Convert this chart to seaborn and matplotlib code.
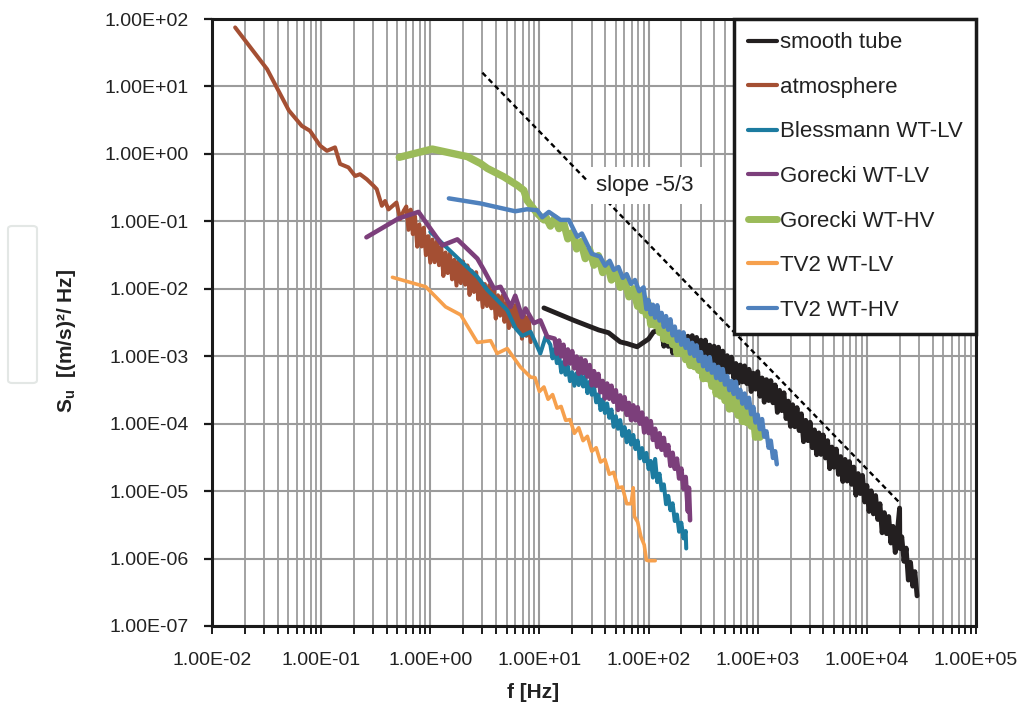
import numpy as np
import pandas as pd
import matplotlib
matplotlib.use("Agg")
import matplotlib.pyplot as plt
import seaborn as sns
from matplotlib.ticker import FuncFormatter, LogLocator, NullLocator
from matplotlib.patches import FancyBboxPatch

# ---------------- data ----------------
atm_f = [0.0163, 0.032, 0.0506, 0.0665, 0.079, 0.098, 0.113, 0.134, 0.149, 0.178,
         0.205, 0.227, 0.262, 0.30, 0.323, 0.36, 0.385, 0.414, 0.49, 0.53, 0.57,
         0.603, 0.631, 0.661, 0.692, 0.724, 0.759, 0.794, 0.832, 0.871, 0.912, 0.955,
         1.0, 1.047, 1.096, 1.148, 1.202, 1.259, 1.318, 1.380, 1.445, 1.514, 1.585,
         1.660, 1.738, 1.820, 1.905, 1.995, 2.089, 2.188, 2.291, 2.399, 2.512, 2.630,
         2.754, 2.884, 3.020, 3.162, 3.311, 3.467, 3.631, 3.802, 3.981, 4.169, 4.365,
         4.571, 4.786, 5.012, 5.248, 5.495, 5.754, 6.026, 6.310, 6.607, 6.918, 7.244,
         7.586, 7.943, 8.318]
atm_S = [75, 18, 4.4, 2.6, 2.2, 1.32, 1.11, 1.25, 0.71, 0.63,
         0.47, 0.50, 0.42, 0.34, 0.30, 0.17, 0.20, 0.15, 0.19, 0.108, 0.143,
         0.166, 0.0748, 0.149, 0.0647, 0.119, 0.0421, 0.0897, 0.0424, 0.0804, 0.0316,
         0.0602, 0.0244, 0.0537, 0.0248, 0.0506, 0.0224, 0.0424, 0.0155, 0.0345, 0.0171,
         0.0335, 0.0138, 0.0269, 0.01116, 0.0257, 0.01213, 0.0254, 0.0115, 0.0222, 0.0081,
         0.0183, 0.00897, 0.0176, 0.00692, 0.0130, 0.00534, 0.01175, 0.00555, 0.01132,
         0.00514, 0.0097, 0.00362, 0.0080, 0.0040, 0.00786, 0.00324, 0.00623, 0.00262,
         0.00589, 0.00278, 0.00568, 0.00258, 0.00486, 0.00182, 0.00401, 0.00201, 0.00394,
         0.00162]

gLV_f = [0.26, 0.51, 0.78, 1.29, 1.77, 2.7, 3.1, 3.83, 4.4, 5.45, 6.0, 6.95, 7.46, 8.9,
         10.2, 11.8, 13.80, 14.45, 15.14, 15.85, 16.60, 17.38, 18.20, 19.05, 19.95, 20.89,
         21.88, 22.91, 23.99, 25.12, 26.30, 27.54, 28.84, 30.20, 31.62, 33.11, 34.67,
         36.31, 38.02, 39.81, 41.69, 43.65, 45.71, 47.86, 50.12, 52.48, 54.95, 57.54,
         60.26, 63.10, 66.07, 69.18, 72.44, 75.86, 79.43, 83.18, 87.10, 91.20, 95.50,
         100.0, 104.7, 109.6, 114.8, 120.2, 125.9, 131.8, 138.0, 144.5, 151.4, 158.5,
         166.0, 173.8, 182.0, 190.5, 199.5, 208.9, 218.8, 229.1, 234.4, 239.9]
gLV_S = [0.058, 0.11, 0.138, 0.044, 0.054, 0.028, 0.019, 0.0101, 0.0107, 0.0054, 0.0079,
         0.0038, 0.0051, 0.0031, 0.0034, 0.00195,
         1.82e-3, 1.09e-3, 1.71e-3, 9.95e-4, 1.48e-3, 7.6e-4, 1.26e-3, 7.8e-4, 1.19e-3,
         6.6e-4, 9.9e-4, 5.5e-4, 9.3e-4, 5.6e-4, 8.7e-4, 5.0e-4, 7.4e-4, 3.7e-4, 6.0e-4,
         3.65e-4, 5.45e-4, 2.92e-4, 4.3e-4, 2.37e-4, 3.94e-4, 2.34e-4, 3.65e-4, 2.11e-4,
         3.13e-4, 1.60e-4, 2.62e-4, 1.63e-4, 2.47e-4, 1.35e-4, 2.03e-4, 1.13e-4, 1.87e-4,
         1.12e-4, 1.75e-4, 1.0e-4, 1.46e-4, 7.4e-5, 1.19e-4, 7.25e-5, 1.09e-4, 5.75e-5,
         8.4e-5, 4.5e-5, 7.2e-5, 4.1e-5, 6.15e-5, 3.4e-5, 4.8e-5, 2.37e-5, 3.7e-5,
         2.14e-5, 3.03e-5, 1.54e-5, 2.16e-5, 1.08e-5, 1.62e-5,
         5.0e-6, 1.12e-5, 3.7e-6]

bl_f = [1.0, 2.7, 3.33, 5.07, 6.04, 6.95, 8.3, 10.2, 11.4, 12.59, 13.18, 13.80, 14.45,
        15.14, 15.85, 16.60, 17.38, 18.20, 19.05, 19.95, 20.89, 21.88, 22.91, 23.99,
        25.12, 26.30, 27.54, 28.84, 30.20, 31.62, 33.11, 34.67, 36.31, 38.02, 39.81,
        41.69, 43.65, 45.71, 47.86, 50.12, 52.48, 54.95, 57.54, 60.26, 63.10, 66.07,
        69.18, 72.44, 75.86, 79.43, 83.18, 87.10, 91.20, 95.50, 100.0, 104.7, 109.6,
        114.8, 120.2, 125.9, 131.8, 138.0, 144.5, 151.4, 158.5, 166.0, 173.8, 182.0,
        190.5, 199.5, 208.9, 218.8, 221.3]
bl_S = [0.07, 0.015, 0.0096, 0.0048, 0.0026, 0.0020, 0.0023, 0.0011, 0.00195,
        1.48e-3, 9.3e-4, 1.28e-3, 7.9e-4, 1.04e-3, 5.75e-4, 8.2e-4, 5.3e-4, 7.1e-4,
        4.27e-4, 5.8e-4, 3.65e-4, 5.6e-4, 3.74e-4, 5.5e-4, 3.56e-4, 5.0e-4, 2.84e-4,
        4.18e-4, 2.68e-4, 3.58e-4, 2.07e-4, 2.73e-4, 1.59e-4, 2.29e-4, 1.44e-4, 1.99e-4,
        1.22e-4, 1.62e-4, 8.97e-5, 1.29e-4, 8.4e-5, 1.13e-4, 6.6e-5, 8.9e-5, 5.3e-5,
        7.8e-5, 4.9e-5, 6.8e-5, 4.2e-5, 5.6e-5, 3.06e-5, 4.35e-5, 2.77e-5, 3.68e-5,
        2.12e-5, 2.8e-5, 1.59e-5, 3.0e-5, 1.36e-5, 1.81e-5, 1.03e-5, 1.26e-5, 6.4e-6,
        8.5e-6, 5.2e-6, 6.6e-6, 3.6e-6, 4.5e-6, 2.5e-6, 3.4e-6, 1.99e-6, 2.56e-6, 1.41e-6]

tLV_f = [0.45, 0.91, 1.38, 1.9, 2.7, 3.57, 4.1, 5.07, 6.7, 8.3, 9.12, 10.0, 11.0, 12.0,
         13.2, 14.5, 15.8, 17.4, 19.1, 20.9, 22.9, 25.1, 27.5, 30.2, 33.1, 36.3, 39.8,
         43.7, 47.9, 52.5, 57.5, 63.1, 69.2, 72.4, 74.1, 79.4, 85.1, 91.2, 95.5, 100, 115]
tLV_S = [0.0148, 0.0107, 0.0054, 0.0041, 0.0016, 0.0017, 0.0011, 0.0013, 6.9e-4, 4.9e-4,
         4.8e-4, 3.0e-4, 3.5e-4, 2.3e-4, 2.7e-4, 1.7e-4, 1.8e-4, 1.12e-4, 1.15e-4, 7.2e-5,
         8.7e-5, 5.6e-5, 6.5e-5, 3.9e-5, 4.4e-5, 2.7e-5, 2.95e-5, 1.78e-5, 1.9e-5, 1.12e-5,
         1.15e-5, 6.5e-6, 6.5e-6, 1.12e-5, 4.2e-6, 3.5e-6, 2.1e-6, 1.6e-6, 9.5e-7, 9.3e-7, 9.3e-7]

gHV_f = [0.52, 1.04, 2.19, 2.89, 3.33, 4.72, 6.27, 7.2, 7.7, 9.55, 11.0,
         11.5, 12.6, 13.8, 15.1, 16.6, 18.2, 20.0, 21.9, 24.0, 26.3, 28.8, 31.6, 34.7,
         38.0, 41.7, 45.7, 50.1, 55.0, 60.3, 66.1, 72.4, 79.4,
         83.18, 87.10, 91.20, 95.50, 100.0, 104.7, 109.6, 114.8, 120.2, 125.9, 131.8,
         138.0, 144.5, 151.4, 158.5, 166.0, 173.8, 182.0, 190.5, 199.5, 208.9, 218.8,
         229.1, 239.9, 251.2, 263.0, 275.4, 288.4, 302.0, 316.2, 331.1, 346.7, 363.1,
         380.2, 398.1, 416.9, 436.5, 457.1, 478.6, 501.2, 524.8, 549.5, 575.4, 602.6,
         631.0, 660.7, 691.8, 724.4, 758.6, 794.3, 831.8, 871.0, 912.0, 955.0, 1000, 1047]
gHV_S = [0.89, 1.18, 0.91, 0.72, 0.61, 0.457, 0.342, 0.288, 0.205, 0.131, 0.105,
         0.115, 0.085, 0.112, 0.078, 0.098, 0.055, 0.068, 0.039, 0.050, 0.028, 0.038,
         0.0224, 0.031, 0.0174, 0.0234, 0.0135, 0.0182, 0.0105, 0.0138, 0.0076, 0.0100,
         0.0055,
         8.2e-3, 4.75e-3, 7.2e-3, 4.1e-3, 5.9e-3, 2.96e-3, 4.74e-3, 2.87e-3, 4.25e-3,
         2.26e-3, 3.31e-3, 1.79e-3, 2.92e-3, 1.71e-3, 2.61e-3, 1.49e-3, 2.18e-3, 1.10e-3,
         1.78e-3, 1.09e-3, 1.65e-3, 8.9e-4, 1.33e-3, 7.3e-4, 1.19e-3, 7.0e-4, 1.08e-3,
         6.2e-4, 9.1e-4, 4.65e-4, 7.6e-4, 4.65e-4, 6.8e-4, 3.59e-4, 5.2e-4, 2.77e-4,
         4.47e-4, 2.58e-4, 3.91e-4, 2.2e-4, 3.24e-4, 1.65e-4, 2.69e-4, 1.65e-4, 2.47e-4,
         1.33e-4, 1.97e-4, 1.08e-4, 1.77e-4, 1.04e-4, 1.60e-4, 9.2e-5, 1.30e-4, 6.3e-5,
         9.9e-5, 6.3e-5]

tHV_f = [1.48, 2.89, 6.0, 7.7, 9.55, 10.6, 12.2, 15.6, 18.6, 22.2, 24.5, 30.2, 36, 40,
         44, 48, 53, 58, 63, 69, 75, 82, 90,
         95.50, 100.0, 104.7, 109.6, 114.8, 120.2, 125.9, 131.8, 138.0, 144.5, 151.4,
         158.5, 166.0, 173.8, 182.0, 190.5, 199.5, 208.9, 218.8, 229.1, 239.9, 251.2,
         263.0, 275.4, 288.4, 302.0, 316.2, 331.1, 346.7, 363.1, 380.2, 398.1, 416.9,
         436.5, 457.1, 478.6, 501.2, 524.8, 549.5, 575.4, 602.6, 631.0, 660.7, 691.8,
         724.4, 758.6, 794.3, 831.8, 871.0, 912.0, 955.0, 1000, 1047, 1096, 1148, 1202,
         1259, 1318, 1380, 1445, 1496]
tHV_S = [0.219, 0.184, 0.141, 0.151, 0.146, 0.115, 0.138, 0.105, 0.105, 0.059, 0.066,
         0.033, 0.030, 0.022, 0.026, 0.019, 0.021, 0.0145, 0.0165, 0.0118, 0.0135, 0.0092,
         0.0105,
         5.0e-3, 6.8e-3, 4.19e-3, 5.8e-3, 3.72e-3, 5.7e-3, 3.38e-3, 4.39e-3, 2.73e-3,
         3.94e-3, 2.47e-3, 3.53e-3, 2.04e-3, 2.75e-3, 1.69e-3, 2.32e-3, 1.48e-3, 2.26e-3,
         1.33e-3, 1.74e-3, 1.09e-3, 1.58e-3, 1.01e-3, 1.45e-3, 8.5e-4, 1.15e-3, 7.1e-4,
         9.8e-4, 6.3e-4, 9.7e-4, 5.7e-4, 7.5e-4, 4.75e-4, 6.95e-4, 4.45e-4, 6.45e-4,
         3.8e-4, 5.1e-4, 3.14e-4, 4.3e-4, 2.76e-4, 4.19e-4, 2.45e-4, 3.18e-4, 1.98e-4,
         2.8e-4, 1.73e-4, 2.42e-4, 1.38e-4, 1.77e-4, 1.04e-4, 1.36e-4, 8.3e-5, 1.17e-4,
         6.4e-5, 7.7e-5, 4.4e-5, 5.6e-5, 3.1e-5, 3.9e-5, 2.5e-5]

st_f = [11, 20.7, 34.9, 43, 55, 63.6, 78.5, 100, 111,
        131.8, 138.0, 144.5, 151.4, 158.5, 166.0, 173.8, 182.0, 190.5, 199.5, 208.9,
        218.8, 229.1, 239.9, 251.2, 263.0, 275.4, 288.4, 302.0, 316.2, 331.1, 346.7,
        363.1, 380.2, 398.1, 416.9, 436.5, 457.1, 478.6, 501.2, 524.8, 549.5, 575.4,
        602.6, 631.0, 660.7, 691.8, 724.4, 758.6, 794.3, 831.8, 871.0, 912.0, 955.0,
        1000, 1047, 1096, 1148, 1202, 1259, 1318, 1380, 1445, 1514, 1585, 1660, 1738,
        1820, 1905, 1995, 2089, 2188, 2291, 2399, 2512, 2630, 2754, 2884, 3020, 3162,
        3311, 3467, 3631, 3802, 3981, 4169, 4365, 4571, 4786, 5012, 5248, 5495, 5754,
        6026, 6310, 6607, 6918, 7244, 7586, 7943, 8318, 8710, 9120, 9550, 10000, 10470,
        10960, 11480, 12020, 12590, 13180, 13800, 14450, 15140, 15850, 16600, 17380,
        18200, 19050, 19950, 20050, 20890, 21880, 22910, 23990, 25120, 26300, 27540, 28840]
st_S = [0.0052, 0.0034, 0.00245, 0.00223, 0.00163, 0.00154, 0.00138, 0.0018, 0.0023,
        2.45e-3, 1.406e-3, 2.51e-3, 1.40e-3, 2.35e-3, 1.12e-3, 2.14e-3, 1.28e-3, 2.22e-3,
        1.15e-3, 1.95e-3, 1.02e-3, 1.98e-3, 1.13e-3, 2.02e-3, 1.13e-3, 1.90e-3, 9.1e-4,
        1.73e-3, 1.01e-3, 1.73e-3, 8.7e-4, 1.46e-3, 7.5e-4, 1.41e-3, 7.8e-4, 1.36e-3,
        7.3e-4, 1.19e-3, 5.5e-4, 1.02e-3, 5.8e-4, 9.7e-4, 4.75e-4, 7.8e-4, 3.97e-4,
        7.4e-4, 4.16e-4, 7.2e-4, 3.93e-4, 6.4e-4, 3.0e-4, 5.6e-4, 3.25e-4,
        5.9e-4, 2.55e-4, 4.76e-4, 2.08e-4, 4.5e-4, 2.2e-4, 4.35e-4, 2.04e-4, 3.75e-4,
        1.47e-4, 3.12e-4, 1.56e-4, 2.87e-4, 1.19e-4, 2.16e-4, 9.1e-5, 1.91e-4, 9.0e-5,
        1.73e-4, 7.9e-5, 1.40e-4, 5.4e-5, 1.12e-4, 5.6e-5, 1.05e-4, 4.4e-5, 8.1e-5,
        3.46e-5, 7.3e-5, 3.5e-5, 6.8e-5, 3.1e-5, 5.6e-5, 2.15e-5, 4.5e-5, 2.26e-5,
        4.2e-5, 1.77e-5, 3.25e-5, 1.39e-5, 2.95e-5, 1.41e-5, 2.74e-5, 1.26e-5, 2.27e-5,
        8.7e-6, 1.82e-5, 9.2e-6, 1.71e-5, 6.9e-6, 1.21e-5, 5.0e-6, 1.01e-5, 4.6e-6,
        8.6e-6, 3.8e-6, 6.5e-6, 2.41e-6, 4.8e-6, 2.34e-6, 4.2e-6, 1.70e-6, 3.0e-6,
        1.23e-6, 2.51e-6, 5.6e-6, 1.41e-6, 2.1e-6, 9.1e-7, 1.43e-6, 4.8e-7, 8.8e-7,
        3.9e-7, 6.4e-7, 2.8e-7]

slope_f = [3.0, 2.0e4]
slope_S = [16.0, 6.7e-6]
slope_label = "slope -5/3"

series_names = ["smooth tube", "atmosphere", "Blessmann WT-LV", "Gorecki WT-LV",
                "Gorecki WT-HV", "TV2 WT-LV", "TV2 WT-HV"]
series_data = [(st_f, st_S), (atm_f, atm_S), (bl_f, bl_S), (gLV_f, gLV_S),
               (gHV_f, gHV_S), (tLV_f, tLV_S), (tHV_f, tHV_S)]
colors = ["#231f20", "#a44f33", "#1c7ba0", "#7c3f7b", "#9bbb59", "#f6a04d", "#4f81bd"]
widths = [3.5, 2.9, 2.9, 3.3, 5.3, 2.6, 3.2]
legend_widths = [3.0, 3.0, 3.0, 3.0, 5.0, 3.0, 3.0]

xlabel = "f [Hz]"
ylabel = r"S$_\mathregular{u}$  [(m/s)²/ Hz]"

# ---------------- style ----------------
sns.set_style("white")
plt.rcParams["font.family"] = ["Liberation Sans", "DejaVu Sans"]

fig = plt.figure(figsize=(10.31, 7.12), dpi=100)
ax = fig.add_axes([212 / 1031, 1 - 626 / 712, (976 - 212) / 1031, (626 - 19) / 712])

for name, (fx, sy), c, w in zip(series_names, series_data, colors, widths):
    df = pd.DataFrame({"f": fx, "S": sy})
    sns.lineplot(data=df, x="f", y="S", ax=ax, color=c, linewidth=w, label=name,
                 sort=False, estimator=None, zorder=3)

sns.lineplot(x=slope_f, y=slope_S, ax=ax, color="black", linewidth=1.7,
             linestyle=(0, (2.2, 1.6)), sort=False, estimator=None, zorder=4)
ax.text(92, 0.34, slope_label, fontsize=16, color="#222222", ha="center", va="center",
        zorder=5, bbox=dict(facecolor="white", edgecolor="none", pad=6))

ax.set_xscale("log")
ax.set_yscale("log")
ax.set_xlim(1e-2, 1e5)
ax.set_ylim(1e-7, 1e2)

ax.xaxis.set_major_locator(LogLocator(base=10, numticks=20))
ax.xaxis.set_minor_locator(LogLocator(base=10, subs=np.arange(2, 10), numticks=100))
ax.yaxis.set_major_locator(LogLocator(base=10, numticks=20))
ax.yaxis.set_minor_locator(NullLocator())
fmt = FuncFormatter(lambda v, p: f"{v:.2E}")
ax.xaxis.set_major_formatter(fmt)
ax.yaxis.set_major_formatter(fmt)

ax.grid(which="major", axis="both", color="#9b9b9b", linewidth=1.5, zorder=0)
ax.grid(which="minor", axis="x", color="#9b9b9b", linewidth=1.3, zorder=0)
ax.set_axisbelow(True)

for sp in ax.spines.values():
    sp.set_color("#1a1a1a")
    sp.set_linewidth(2.2)

ax.tick_params(axis="y", which="major", direction="out", length=6, width=1.6,
               color="#1a1a1a", pad=11, labelsize=14, labelcolor="#222222", left=True)
ax.tick_params(axis="x", which="both", direction="out", length=6, width=1.4,
               color="#1a1a1a", pad=13, labelsize=14, labelcolor="#222222", bottom=True)

ax.set_xlabel(xlabel, fontsize=15, fontweight="bold", color="#222222")
ax.set_ylabel(ylabel, fontsize=15, fontweight="bold", color="#222222")
ax.xaxis.set_label_coords(0.42, -0.094)
ax.yaxis.set_label_coords(-0.175, 0.47)

leg = ax.legend(loc="upper right", bbox_to_anchor=(1, 1), borderaxespad=0,
                frameon=True, fancybox=False, fontsize=16, handlelength=1.3,
                handletextpad=0.15, labelspacing=1.06, borderpad=0.6)
leg.get_frame().set_edgecolor("#1a1a1a")
leg.get_frame().set_linewidth(2.5)
leg.get_frame().set_alpha(1)
for t in leg.get_texts():
    t.set_color("#222222")
for ln, w in zip(leg.get_lines(), legend_widths):
    ln.set_linewidth(w)
leg.set_zorder(10)

fig.patches.append(FancyBboxPatch((8 / 1031, 1 - 383 / 712), 29 / 1031, 157 / 712,
                                  boxstyle="round,pad=0,rounding_size=0.004",
                                  transform=fig.transFigure, facecolor="white",
                                  edgecolor="#e3e7e5", linewidth=1.5))

fig.savefig("out.png", dpi=100)
